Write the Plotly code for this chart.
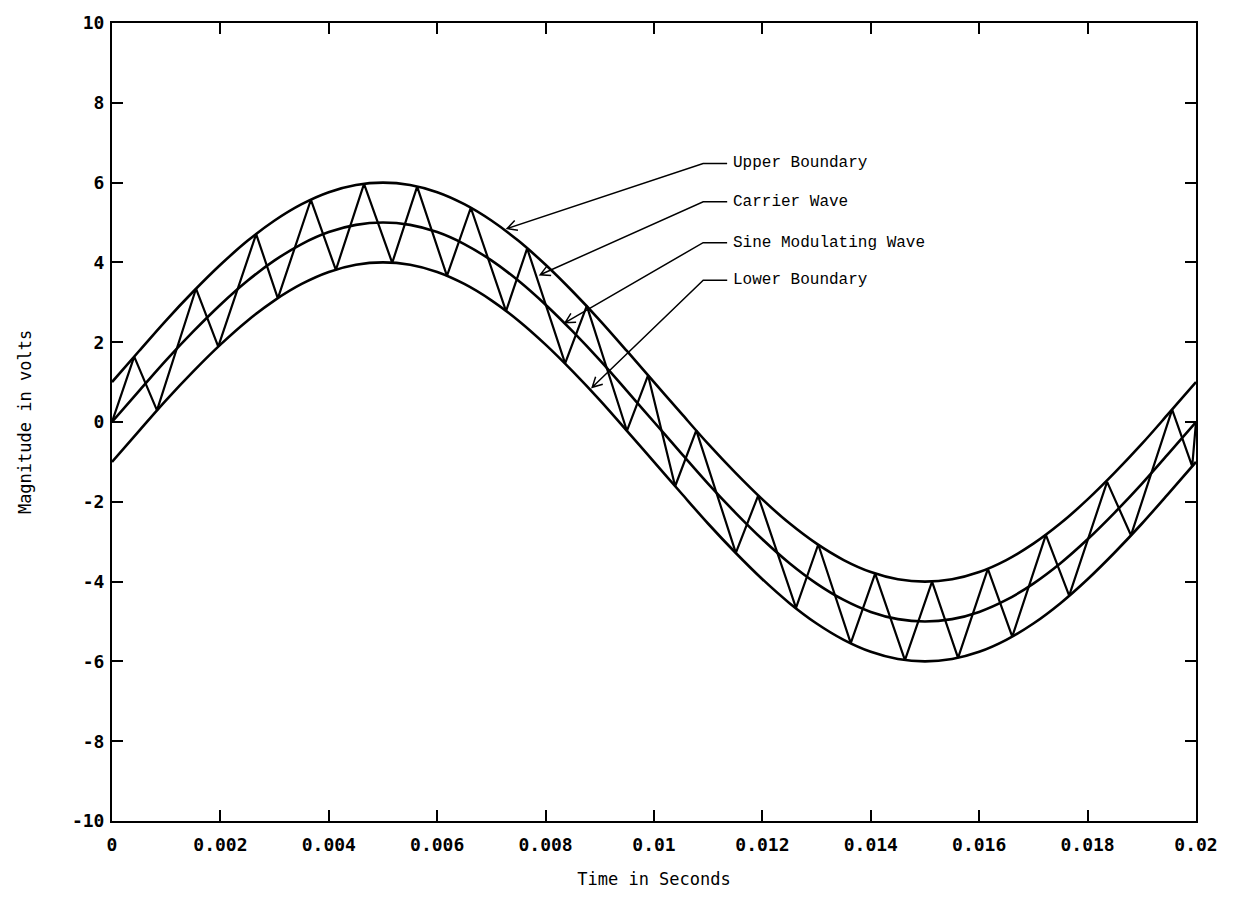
import math
import plotly.graph_objects as go

# Sine modulating wave and its hysteresis band, sampled every 0.5 ms (values in volts)
wave_t_ms = [0, 0.5, 1, 1.5, 2, 2.5, 3, 3.5, 4, 4.5, 5, 5.5, 6, 6.5, 7, 7.5, 8, 8.5, 9, 9.5,
             10, 10.5, 11, 11.5, 12, 12.5, 13, 13.5, 14, 14.5, 15, 15.5, 16, 16.5, 17, 17.5,
             18, 18.5, 19, 19.5, 20]
sine_v = [0.00, 0.78, 1.55, 2.27, 2.94, 3.54, 4.05, 4.46, 4.76, 4.94, 5.00, 4.94, 4.76, 4.46,
          4.05, 3.54, 2.94, 2.27, 1.55, 0.78, 0.00, -0.78, -1.55, -2.27, -2.94, -3.54, -4.05,
          -4.46, -4.76, -4.94, -5.00, -4.94, -4.76, -4.46, -4.05, -3.54, -2.94, -2.27, -1.55,
          -0.78, 0.00]
upper_v = [1.00, 1.78, 2.55, 3.27, 3.94, 4.54, 5.05, 5.46, 5.76, 5.94, 6.00, 5.94, 5.76, 5.46,
           5.05, 4.54, 3.94, 3.27, 2.55, 1.78, 1.00, 0.22, -0.55, -1.27, -1.94, -2.54, -3.05,
           -3.46, -3.76, -3.94, -4.00, -3.94, -3.76, -3.46, -3.05, -2.54, -1.94, -1.27, -0.55,
           0.22, 1.00]
lower_v = [-1.00, -0.22, 0.55, 1.27, 1.94, 2.54, 3.05, 3.46, 3.76, 3.94, 4.00, 3.94, 3.76, 3.46,
           3.05, 2.54, 1.94, 1.27, 0.55, -0.22, -1.00, -1.78, -2.55, -3.27, -3.94, -4.54, -5.05,
           -5.46, -5.76, -5.94, -6.00, -5.94, -5.76, -5.46, -5.05, -4.54, -3.94, -3.27, -2.55,
           -1.78, -1.00]

# Carrier wave: switching instants (ms) bouncing between the band edges
carrier_t_ms = [0, 0.41, 0.83, 1.55, 1.96, 2.66, 3.06, 3.67, 4.13, 4.65, 5.17, 5.63, 6.18,
                6.62, 7.27, 7.66, 8.36, 8.76, 9.50, 9.89, 10.39, 10.78, 11.51, 11.92, 12.62,
                13.03, 13.63, 14.08, 14.63, 15.13, 15.61, 16.16, 16.61, 17.23, 17.66, 18.36,
                18.80, 19.56, 19.93, 20.0]
carrier_v = [0.00, 1.64, 0.29, 3.34, 1.89, 4.71, 3.10, 5.57, 3.81, 5.97, 3.99, 5.90, 3.66,
             5.37, 2.78, 4.35, 1.47, 2.91, -0.22, 1.17, -1.61, -0.21, -3.28, -1.85, -4.66,
             -3.07, -5.54, -3.80, -5.97, -4.00, -5.91, -3.68, -5.38, -2.83, -4.35, -1.50,
             -2.84, 0.31, -1.11, 0.00]

x_ticks = [0, 0.002, 0.004, 0.006, 0.008, 0.01, 0.012, 0.014, 0.016, 0.018, 0.02]
x_tick_labels = ["0", "0.002", "0.004", "0.006", "0.008", "0.01", "0.012", "0.014",
                 "0.016", "0.018", "0.02"]
y_ticks = [-10, -8, -6, -4, -2, 0, 2, 4, 6, 8, 10]
y_tick_labels = ["-10", "-8", "-6", "-4", "-2", "0", "2", "4", "6", "8", "10"]

# Callout labels: text, arrow tip (s, V), leader corner offset from tip in pixels (right, up)
callout_text = ["Upper Boundary", "Carrier Wave", "Sine Modulating Wave", "Lower Boundary"]
callout_tip_t = [0.00729, 0.00790, 0.00836, 0.00886]
callout_tip_v = [4.85, 3.69, 2.49, 0.87]
callout_dx = [196, 163, 138, 111]
callout_dy = [65, 73, 80, 107]

to_s = lambda ms: [v / 1000.0 for v in ms]
wave_t = to_s(wave_t_ms)
carrier_t = to_s(carrier_t_ms)

line_style = dict(color="black", width=2.6)

fig = go.Figure()
for name, vals in (("Upper Boundary", upper_v), ("Sine Modulating Wave", sine_v),
                   ("Lower Boundary", lower_v)):
    fig.add_trace(go.Scatter(x=wave_t, y=vals, mode="lines", name=name,
                             line=dict(line_style, shape="spline", smoothing=1.0)))
fig.add_trace(go.Scatter(x=carrier_t, y=carrier_v, mode="lines", name="Carrier Wave",
                         line=dict(color="black", width=2.2)))

shapes = []
annotations = []
head_len, head_ang = 11.0, math.radians(28)
for text, tx, tv, dx, dy in zip(callout_text, callout_tip_t, callout_tip_v, callout_dx, callout_dy):
    ang = math.atan2(dy, dx)
    w1 = (head_len * math.cos(ang + head_ang), head_len * math.sin(ang + head_ang))
    w2 = (head_len * math.cos(ang - head_ang), head_len * math.sin(ang - head_ang))
    path = (f"M {w1[0]:.2f},{w1[1]:.2f} L 0,0 L {w2[0]:.2f},{w2[1]:.2f} "
            f"M 0,0 L {dx},{dy} L {dx + 24},{dy}")
    shapes.append(dict(type="path", xref="x", yref="y", xsizemode="pixel", ysizemode="pixel",
                       xanchor=tx, yanchor=tv, path=path,
                       line=dict(color="black", width=1.5)))
    annotations.append(dict(x=tx, y=tv, xref="x", yref="y", text=text, showarrow=False,
                            xanchor="left", yanchor="middle", xshift=dx + 28, yshift=dy,
                            font=dict(family="Liberation Mono", size=16, color="black")))

axis_common = dict(showline=True, linewidth=2, linecolor="black", mirror="ticks",
                   ticks="inside", ticklen=11, tickwidth=1.6, tickcolor="black",
                   showgrid=False, zeroline=False,
                   tickfont=dict(family="DejaVu Sans Mono", size=18, color="black",
                                 weight="bold"))

fig.update_layout(
    width=1237, height=900,
    margin=dict(l=112, r=41, t=19, b=79),
    paper_bgcolor="white", plot_bgcolor="white",
    showlegend=False,
    shapes=shapes, annotations=annotations,
    xaxis=dict(axis_common, range=[0, 0.02], tickmode="array", tickvals=x_ticks,
               ticktext=x_tick_labels, ticklabelstandoff=6,
               title=dict(text="Time in Seconds", standoff=20,
                          font=dict(family="DejaVu Sans Mono", size=17, color="black"))),
    yaxis=dict(axis_common, range=[-10, 10], tickmode="array", tickvals=y_ticks,
               ticktext=y_tick_labels, ticklabelstandoff=2,
               title=dict(text="Magnitude in volts", standoff=36,
                          font=dict(family="DejaVu Sans Mono", size=17, color="black"))),
)

fig.write_html("out.html")
